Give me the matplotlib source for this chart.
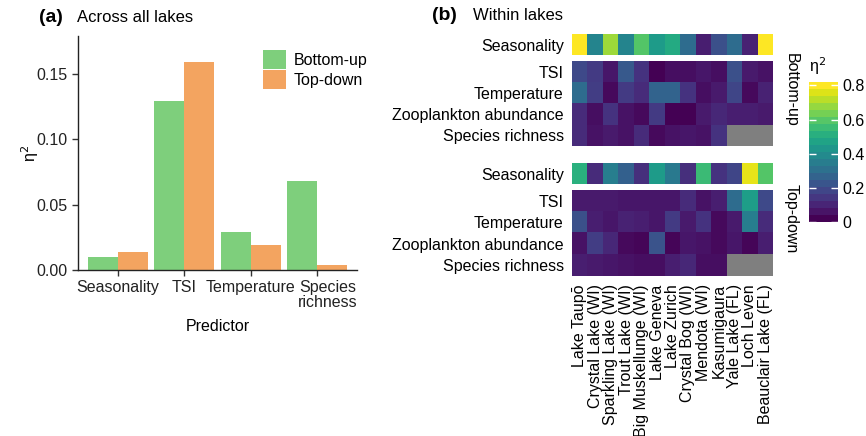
import numpy as np
import matplotlib
import matplotlib.pyplot as plt
import matplotlib.transforms as mtransforms
from matplotlib.patches import Patch

plt.rcParams['font.family'] = ['Liberation Sans', 'DejaVu Sans']

# panel (a)
predictors = ["Seasonality", "TSI", "Temperature", "Species\nrichness"]
bottom_up = [0.010, 0.129, 0.029, 0.068]
top_down = [0.014, 0.159, 0.019, 0.004]

# panel (b)
lakes = ["Lake Taupō", "Crystal Lake (WI)", "Sparkling Lake (WI)", "Trout Lake (WI)",
         "Big Muskellunge (WI)", "Lake Geneva", "Lake Zurich", "Crystal Bog (WI)",
         "Mendota (WI)", "Kasumigaura", "Yale Lake (FL)", "Loch Leven", "Beauclair Lake (FL)"]
row_labels = ["TSI", "Temperature", "Zooplankton abundance", "Species richness"]
nan = np.nan

bu_season = [0.83, 0.37, 0.70, 0.37, 0.60, 0.45, 0.50, 0.29, 0.07, 0.20, 0.29, 0.08, 0.83]
bu_rows = [
    [0.18, 0.14, 0.05, 0.23, 0.12, 0.00, 0.03, 0.03, 0.05, 0.03, 0.20, 0.06, 0.04],
    [0.29, 0.15, 0.02, 0.14, 0.10, 0.26, 0.26, 0.12, 0.03, 0.06, 0.17, 0.02, 0.08],
    [0.10, 0.03, 0.12, 0.04, 0.02, 0.14, 0.00, 0.00, 0.06, 0.09, 0.07, 0.07, 0.06],
    [0.10, 0.04, 0.06, 0.04, 0.10, 0.02, 0.04, 0.05, 0.04, 0.12, nan, nan, nan],
]
td_season = [0.52, 0.10, 0.35, 0.25, 0.11, 0.45, 0.33, 0.11, 0.56, 0.12, 0.17, 0.79, 0.60]
td_rows = [
    [0.06, 0.06, 0.06, 0.05, 0.05, 0.05, 0.05, 0.10, 0.04, 0.07, 0.29, 0.46, 0.18],
    [0.20, 0.07, 0.05, 0.08, 0.07, 0.05, 0.14, 0.06, 0.12, 0.02, 0.06, 0.35, 0.10],
    [0.04, 0.15, 0.09, 0.02, 0.01, 0.21, 0.01, 0.05, 0.04, 0.02, 0.05, 0.01, 0.07],
    [0.07, 0.06, 0.05, 0.04, 0.03, 0.03, 0.07, 0.09, 0.03, 0.03, nan, nan, nan],
]

W, H = 866, 436
fig = plt.figure(figsize=(W / 100, H / 100), dpi=100)


def ax_px(l, t, r, b):
    return fig.add_axes([l / W, 1 - b / H, (r - l) / W, (b - t) / H])


fs = 11.5
green = "#7ecf7c"
orange = "#f3a460"

# ---- (a) bar chart
ax = ax_px(78, 36, 357, 270)
x = np.arange(len(predictors))
w = 0.45
ax.bar(x - w / 2, bottom_up, w, color=green, edgecolor='none')
ax.bar(x + w / 2, top_down, w, color=orange, edgecolor='none')
ax.set_xlim(-0.6, 3.6)
ax.set_ylim(0, 0.179)
ax.set_yticks([0, 0.05, 0.10, 0.15])
ax.set_yticklabels(["0.00", "0.05", "0.10", "0.15"])
ax.set_xticks(x)
ax.set_xticklabels(predictors, fontsize=fs, va='top', linespacing=1.0)
ax.tick_params(labelsize=fs, length=4, width=1, color='#333333', labelcolor='#222222')
# the two-line label sits a bit to the right in the original
last = ax.get_xticklabels()[-1]
last.set_transform(last.get_transform() + mtransforms.ScaledTranslation(11 / 100, 0, fig.dpi_scale_trans))
ax.spines['top'].set_visible(False)
ax.spines['right'].set_visible(False)
for s in ['left', 'bottom']:
    ax.spines[s].set_linewidth(1)
    ax.spines[s].set_color('#222222')
ax.set_xlabel("Predictor", fontsize=fs, labelpad=6)
ax.set_ylabel("η$^2$", fontsize=fs, labelpad=-3)

handles = [Patch(facecolor=green, label='Bottom-up'), Patch(facecolor=orange, label='Top-down')]
ax.legend(handles=handles, loc='upper left', bbox_to_anchor=(263 / W, 1 - 50 / H),
          bbox_transform=fig.transFigure, frameon=False, fontsize=fs,
          handlelength=1.45, handleheight=1.45, labelspacing=0.08,
          handletextpad=0.45, borderpad=0, borderaxespad=0)

fig.text(39 / W, 1 - 18 / H, "(a)", fontsize=14, fontweight='bold', va='center')
fig.text(77 / W, 1 - 18 / H, "Across all lakes", fontsize=12, va='center')

# ---- (b) heatmaps
cmap = matplotlib.colormaps['viridis'].copy()
cmap.set_bad('#7f7f7f')
vmax = 0.82
hl, hr = 572, 773

blocks = [
    (34, 55, [bu_season], ["Seasonality"]),
    (61, 146, bu_rows, row_labels),
    (163, 184, [td_season], ["Seasonality"]),
    (190, 276, td_rows, row_labels),
]
for i, (t, b, data, labels) in enumerate(blocks):
    hax = ax_px(hl, t, hr, b)
    hax.imshow(np.array(data, dtype=float), cmap=cmap, vmin=0, vmax=vmax,
               aspect='auto', interpolation='nearest')
    hax.set_yticks(range(len(labels)))
    hax.set_yticklabels(labels, fontsize=fs)
    hax.tick_params(axis='y', length=0, pad=6)
    for s in hax.spines.values():
        s.set_visible(False)
    if i == 3:
        hax.set_xticks(range(len(lakes)))
        hax.set_xticklabels(lakes, rotation=90, fontsize=fs)
        hax.tick_params(axis='x', length=0, pad=6)
    else:
        hax.set_xticks([])

fig.text(791 / W, 1 - 90 / H, "Bottom-up", rotation=270, fontsize=fs,
         ha='center', va='center')
fig.text(791 / W, 1 - 219 / H, "Top-down", rotation=270, fontsize=fs,
         ha='center', va='center')

fig.text(432 / W, 1 - 16 / H, "(b)", fontsize=14, fontweight='bold', va='center')
fig.text(473 / W, 1 - 16 / H, "Within lakes", fontsize=12, va='center')

# colorbar
cax = ax_px(809, 82, 838, 222)
sm = matplotlib.cm.ScalarMappable(norm=matplotlib.colors.Normalize(0, vmax),
                                  cmap=matplotlib.colormaps['viridis'].resampled(20))
cb = fig.colorbar(sm, cax=cax, ticks=[0, 0.2, 0.4, 0.6, 0.8])
cb.ax.set_yticklabels(["0", "0.2", "0.4", "0.6", "0.8"])
cb.outline.set_visible(False)
cb.ax.yaxis.set_ticks_position('both')
cb.ax.tick_params(direction='in', color='white', length=5, width=1,
                  labelsize=fs, pad=3, labelleft=False, labelright=True)
fig.text(818 / W, 1 - 66 / H, "η$^2$", fontsize=fs, ha='center', va='center')

fig.savefig("out.png", dpi=100)
